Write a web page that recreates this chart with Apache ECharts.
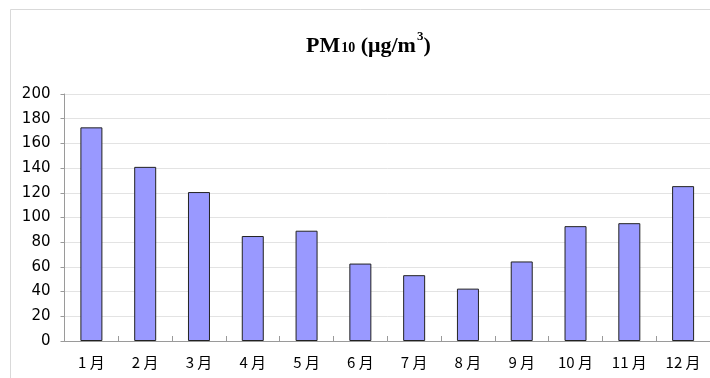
<!DOCTYPE html>
<html>
<head>
<meta charset="utf-8">
<script src="https://cdn.jsdelivr.net/npm/echarts@6/dist/echarts.min.js"></script>
<style>
  html, body { margin: 0; padding: 0; background: #fff; }
  #chart { width: 710px; height: 378px; }
</style>
</head>
<body>
<div id="chart"></div>
<script>
// Monthly mean PM10 concentration
const months = ['1月', '2月', '3月', '4月', '5月', '6月', '7月', '8月', '9月', '10月', '11月', '12月'];
const pm10 = [173, 141, 120.6, 85, 89.3, 62.7, 53.3, 42.4, 64.4, 93, 95.4, 125.4];
const yTicks = [0, 20, 40, 60, 80, 100, 120, 140, 160, 180, 200];

const chart = echarts.init(document.getElementById('chart'), null, { renderer: 'canvas' });

chart.setOption({
  animation: false,
  backgroundColor: '#ffffff',
  title: {
    left: 301,
    top: 22,
    text: '{a|PM}{sub|10}{a| (μg/m}{sup|3}{a|)}',
    textStyle: {
      rich: {
        a: { fontFamily: 'Liberation Serif', fontWeight: 'bold', fontSize: 22, color: '#000', lineHeight: 30, verticalAlign: 'bottom' },
        sub: { fontFamily: 'Liberation Serif', fontWeight: 'bold', fontSize: 14, color: '#000', lineHeight: 30, verticalAlign: 'bottom', padding: [0, 0, 2, 1] },
        sup: { fontFamily: 'Liberation Serif', fontWeight: 'bold', fontSize: 13, color: '#000', lineHeight: 30, verticalAlign: 'top', padding: [3, 0, 0, 1] }
      }
    }
  },
  graphic: [{
    type: 'rect',
    silent: true,
    shape: { x: 10.5, y: 9.5, width: 720, height: 400 },
    style: { fill: null, stroke: '#d9d9d9', lineWidth: 1 }
  }],
  grid: { left: 64.5, right: 0, top: 94, bottom: 37, containLabel: false },
  xAxis: {
    type: 'category',
    data: months,
    boundaryGap: true,
    axisLine: { lineStyle: { color: '#9a9a9a', width: 1 } },
    axisTick: { show: true, inside: true, length: 5, alignWithLabel: false, lineStyle: { color: '#9a9a9a' } },
    axisLabel: {
      margin: 14,
      fontFamily: 'Noto Sans CJK SC',
      fontSize: 15,
      color: '#000',
      formatter: v => v.replace('月', ' 月')
    },
    splitLine: { show: false }
  },
  yAxis: {
    type: 'value',
    min: yTicks[0],
    max: yTicks[yTicks.length - 1],
    interval: yTicks[1] - yTicks[0],
    axisLine: { show: true, lineStyle: { color: '#9a9a9a', width: 1 } },
    axisTick: { show: true, length: 4, lineStyle: { color: '#9a9a9a' } },
    axisLabel: {
      margin: 14,
      fontFamily: 'DejaVu Sans',
      fontSize: 15,
      color: '#000'
    },
    splitLine: { show: true, lineStyle: { color: '#e3e3e3', width: 1 } }
  },
  series: [{
    type: 'bar',
    data: pm10,
    barWidth: 22,
    itemStyle: { color: '#9999ff', borderColor: '#222', borderWidth: 1 }
  }]
});
</script>
</body>
</html>
